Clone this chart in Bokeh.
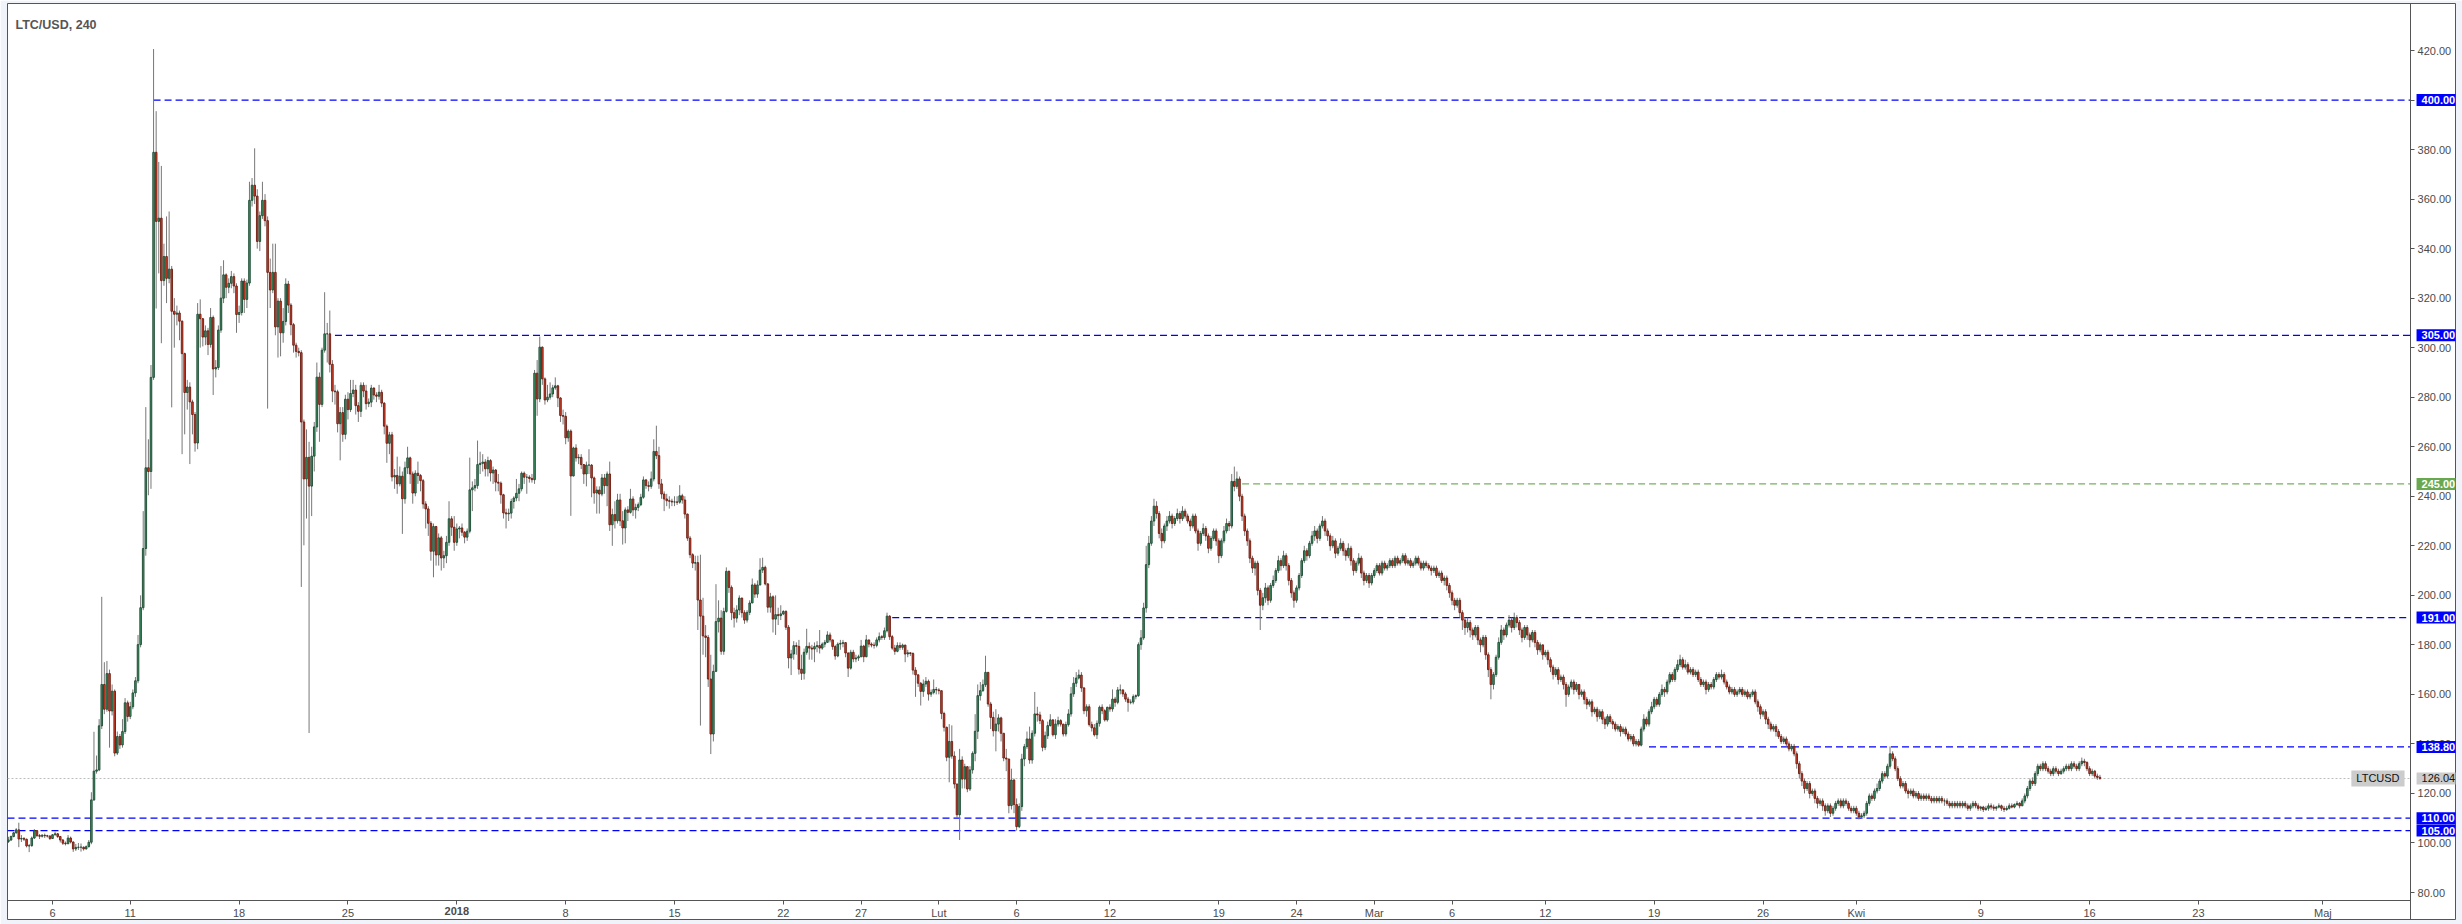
import numpy as np
import pandas as pd
from bokeh.plotting import figure
from bokeh.models import ColumnDataSource, Range1d, FixedTicker, PrintfTickFormatter, Label, DatetimeAxis
from bokeh.embed import file_html
from bokeh.resources import INLINE

# ---------------- data ----------------
chart_title = "LTC/USD, 240"
first_bar = "2017-12-03 04:00"
bar_hours = 4
first_open = 100.6

close = [
    # early December
    101.2, 102.6, 104.1, 105.3, 101.6, 101.8, 101.5, 98.8, 98.9, 102.0, 105.0, 103.0, 102.7, 103.1, 102.9, 102.8,
    101.8, 103.3, 103.7, 102.6, 101.2, 99.9, 99.7, 102.0, 100.4, 97.6, 98.2, 98.3, 98.3, 97.6, 98.5, 100.3,
    # pump
    117.4, 129.0, 129.5, 147.3, 164.0, 154.0, 168.4, 153.3, 161.3, 136.3, 143.0, 139.6, 145.0, 156.6, 151.1, 155.0,
    160.6, 165.5, 180.1, 195.0, 218.9, 251.5, 250.0, 288.0, 378.9, 351.0, 352.3, 327.1, 336.8, 328.0, 331.7, 314.7,
    313.5, 314.0, 310.7, 297.6, 281.9, 284.1, 278.1, 273.0, 261.5, 313.5,
    # mid / late December
    311.7, 304.3, 306.8, 301.3, 312.2, 291.4, 292.0, 307.1, 320.0, 329.4, 324.4, 326.0, 328.7, 324.9, 313.4, 314.2,
    326.9, 319.5, 326.1, 359.5, 365.6, 361.2, 342.9, 353.3, 359.5, 351.3, 330.4, 323.3, 330.4, 308.4, 318.8, 306.0,
    310.6, 325.7, 317.2, 309.3, 301.0, 298.5, 298.0, 270.0, 247.0, 255.7, 244.1, 256.2, 268.0, 288.1, 277.1, 299.0,
    305.6, 305.6, 293.3, 282.5, 282.2, 269.3, 273.8, 265.0, 279.2, 275.0, 281.5, 282.9, 276.6, 274.3, 284.8, 282.5,
    277.4, 278.0, 283.7, 280.9, 280.4, 282.0, 277.6, 268.3, 261.4,
    # late December / early January
    264.8, 247.8, 248.4, 245.0, 248.1, 239.0, 251.5, 255.5, 249.0, 241.3, 249.3, 248.4, 246.3, 236.9, 234.9, 229.1,
    217.8, 227.8, 216.3, 223.2, 215.1, 216.0, 221.4, 230.9, 227.5, 221.4, 226.8, 227.2, 225.5, 223.5, 225.9, 242.6,
    243.4, 244.3, 252.8, 253.3, 253.8, 251.1, 254.4, 249.4, 250.6, 245.7, 245.3, 240.6, 233.3, 232.9, 233.2, 237.9,
    239.3, 241.2, 243.0, 249.3, 247.7, 247.7, 247.2, 246.7, 289.7, 279.3, 300.2, 287.4, 278.9, 280.0, 281.3, 283.8,
    284.6, 279.7, 272.6, 272.3, 263.6, 266.3, 248.2, 259.5, 255.5,
    # January
    255.7, 252.8, 249.0, 252.6, 252.6, 247.4, 241.3, 242.5, 240.9, 247.4, 244.3, 249.0, 228.5, 232.6, 230.1, 238.5,
    230.1, 227.2, 234.5, 233.5, 238.9, 234.5, 235.5, 236.6, 239.6, 246.6, 244.3, 244.0, 247.0, 258.1, 256.4, 245.0,
    240.9, 238.9, 238.2, 238.0, 237.7, 237.7, 237.6, 240.2, 238.5, 232.8, 223.1, 216.4, 213.0, 213.2, 198.1, 191.6,
    183.6, 183.0, 166.2, 144.0, 169.3, 189.4, 190.8, 177.4, 193.5, 209.7, 203.2, 193.0, 190.8, 194.1, 198.9, 193.0,
    190.0, 193.1, 196.9, 204.2, 200.5, 204.2, 210.2, 211.3, 204.6, 195.2,
    # late January / early February
    199.4, 190.4, 192.2, 191.8, 192.5, 193.5, 187.1, 174.7, 176.3, 179.7, 179.4, 170.2, 168.5, 177.0, 179.4, 178.7,
    178.3, 179.3, 179.7, 178.7, 180.3, 181.0, 184.0, 182.0, 179.3, 175.5, 180.3, 180.6, 180.9, 176.7, 170.6, 177.0,
    174.3, 174.7, 175.2, 179.5, 175.2, 182.0, 180.3, 179.9, 179.8, 182.0, 183.3, 183.0, 185.7, 191.6, 183.3, 178.7,
    177.4, 179.7, 179.0, 179.9, 176.3, 176.8, 176.5, 169.8, 167.9, 164.5, 161.2, 164.2, 165.3, 160.1, 160.8, 162.0,
    161.8, 161.5, 152.3, 146.7, 134.6, 141.0, 135.1, 123.8, 111.4,
    # February
    133.5, 125.8, 130.8, 121.8, 129.5, 136.2, 145.1, 159.5, 161.5, 163.9, 168.9, 156.1, 150.7, 145.3, 148.0, 150.5,
    144.3, 134.3, 133.9, 115.1, 125.4, 115.5, 106.6, 114.7, 133.9, 138.9, 142.0, 133.5, 144.3, 152.1, 151.7, 149.4,
    138.6, 143.3, 147.4, 149.7, 143.7, 148.0, 149.4, 148.0, 144.0, 147.8, 152.1, 160.2, 164.5, 166.6, 167.8, 162.6,
    153.4, 155.0, 147.8, 146.5, 143.7, 148.3, 154.8, 153.4, 149.7, 154.8, 154.1, 158.1, 156.8, 161.8, 161.8, 160.2,
    158.1, 156.8, 156.9, 159.1, 159.5, 180.1, 182.8, 194.9, 212.4,
    # mid February to mid April
    221, 230, 236, 233, 225, 222, 228, 230, 232, 229, 231, 233, 231, 234, 232,
    230, 228, 232, 226, 221, 225, 227, 224, 219, 223, 226, 222, 216, 222, 226, 229, 228,
    246, 244, 247, 240, 232, 226, 222, 215, 211, 213, 202, 196, 199,
    203, 198, 204, 206, 210, 214, 212, 216, 212, 206, 201, 198, 203,
    208, 214, 218, 216, 221, 224, 226, 223, 228, 230, 226,
    224, 220, 222, 217, 219, 221, 218, 216, 219, 214, 210, 213, 215,
    209, 206, 208, 205, 208, 210, 212, 209, 213, 211, 212,
    214, 212, 215, 213, 214, 216, 213, 214, 212, 213, 215, 213, 211, 213, 212, 211, 210,
    211, 208, 209, 206, 207, 204, 201, 198, 196, 198, 193, 190, 187, 189, 186,
    184, 187, 182, 180, 183, 176, 170, 164, 168, 175, 181, 186, 184, 188, 190, 187, 191, 189,
    186, 183, 187, 184, 182, 185, 181, 178, 180, 176, 177, 174, 171, 168, 170, 166, 167,
    164, 160, 163, 165, 162, 164, 160, 161, 158, 156, 157, 153, 154,
    151, 153, 150, 148, 151, 149, 148, 146, 147, 145, 146, 144, 142, 143, 140, 141, 139.5,
    146, 150, 148, 153, 155, 158, 156, 160, 162, 161, 165, 168, 166, 170, 172, 174,
    171, 172, 169, 170, 168, 169, 166, 164, 165, 162, 164, 163, 166, 168, 167, 168,
    165, 163, 161, 162, 160, 161, 162, 160, 161, 159, 160, 161,
    157, 155, 152, 153, 150, 148, 146, 147, 145, 143, 141, 142, 140,
    138, 139, 136, 132, 128, 125, 122, 124, 120, 121, 118, 116, 117, 115,
    113, 115, 112, 114, 116, 117, 115, 117, 116, 114, 113, 114, 112, 110.5, 111, 112,
    116, 119, 118, 121, 122, 125, 128, 127, 131, 136, 134, 130,
    126, 123, 124, 121, 120, 121, 119, 120, 118, 119, 118,
    119, 118, 117, 118, 117, 118, 117, 117, 116, 115, 116, 115, 116,
    115, 116, 115, 114, 115, 116, 115, 114, 114.5, 113.5, 114, 115, 114.5,
    114, 114.5, 115, 114, 113.5, 114, 115, 114.5, 115.5, 116, 115, 117,
    119, 122, 125, 124, 128, 131, 130, 132, 130,
    129, 128, 130, 129, 128, 129, 130, 131, 130, 132, 131, 130, 132,
    133, 132.5, 130, 128, 129, 127, 126.5, 126.04,
]

high = [
    102.5, 103.0, 104.5, 106.0, 108.2, 103.2, 102.4, 101.8, 99.6, 102.6, 105.6, 105.2, 103.6, 103.6, 103.8, 103.3,
    103.1, 103.6, 104.6, 104.0, 102.8, 101.6, 100.6, 103.2, 102.6, 100.6, 99.6, 100.0, 99.8, 98.6, 99.0, 101.2,
    120.5, 144.9, 135.3, 150.0, 199.4, 173.0, 173.5, 170.0, 164.0, 162.0, 145.0, 144.0, 150.0, 158.5, 157.5, 157.0,
    162.0, 167.0, 184.0, 200.0, 234.0, 276.0, 263.0, 293.0, 420.6, 395.5, 375.0, 373.4, 342.0, 353.0, 355.0, 333.0,
    320.0, 317.0, 315.0, 311.0, 298.0, 287.0, 286.0, 279.0, 274.0, 318.0,
    319.5, 312.0, 309.0, 308.0, 316.0, 313.0, 295.0, 309.0, 333.0, 335.3, 330.0, 328.0, 331.0, 330.0, 326.0, 317.0,
    328.0, 328.0, 327.5, 367.0, 368.5, 380.5, 364.0, 355.0, 367.0, 362.0, 353.0, 336.0, 342.0, 342.0, 320.0, 320.0,
    316.0, 328.0, 327.0, 318.0, 310.0, 302.0, 300.0, 299.0, 271.0, 267.0, 262.0, 260.0, 270.0, 294.0, 290.0, 300.0,
    322.4, 310.0, 315.0, 295.0, 285.0, 283.0, 276.0, 276.0, 281.0, 282.0, 287.0, 287.0, 285.0, 278.0, 286.0, 286.0,
    285.0, 279.5, 285.0, 284.0, 282.0, 285.0, 283.0, 278.0, 269.0,
    266.0, 266.0, 251.0, 256.0, 252.0, 250.0, 254.0, 260.0, 256.0, 250.0, 250.5, 254.0, 249.0, 247.0, 238.0, 236.0,
    230.0, 229.0, 228.0, 225.0, 224.0, 218.0, 224.0, 238.0, 232.0, 232.0, 229.0, 228.0, 229.0, 226.0, 227.0, 255.6,
    246.0, 247.0, 262.5, 258.0, 257.0, 255.0, 256.0, 255.0, 252.0, 251.0, 249.0, 246.0, 241.0, 235.0, 235.0, 239.0,
    240.0, 247.0, 245.0, 250.0, 250.0, 249.0, 248.5, 249.0, 291.0, 295.0, 304.5, 300.5, 288.0, 285.0, 286.0, 285.0,
    288.0, 285.0, 280.0, 275.0, 274.0, 267.0, 267.0, 260.0, 261.0,
    257.0, 257.0, 253.0, 254.0, 259.0, 253.0, 248.0, 244.0, 244.0, 249.0, 249.0, 250.0, 254.0, 235.0, 238.0, 241.0,
    241.0, 234.0, 235.5, 236.0, 243.0, 240.0, 237.0, 237.5, 241.0, 248.0, 247.0, 246.0, 250.0, 263.0, 268.5, 260.0,
    247.0, 242.0, 241.0, 240.0, 239.0, 240.0, 240.0, 244.5, 241.0, 240.0, 233.0, 224.0, 217.0, 216.0, 216.0, 216.4,
    199.0, 188.0, 184.0, 176.0, 172.0, 204.5, 198.0, 194.0, 195.0, 211.3, 210.0, 204.0, 195.0, 196.0, 200.0, 199.0,
    194.0, 194.0, 198.0, 206.8, 205.0, 206.0, 215.0, 215.2, 212.0, 205.0,
    201.0, 200.0, 200.0, 195.0, 196.0, 194.0, 194.0, 188.0, 178.0, 181.5, 181.0, 182.0, 176.0, 178.5, 186.5, 181.0,
    180.0, 181.0, 181.5, 186.0, 181.0, 182.0, 185.5, 185.0, 182.0, 180.0, 181.0, 182.0, 182.0, 181.0, 177.0, 178.0,
    178.0, 176.0, 176.0, 182.0, 180.0, 184.0, 182.0, 181.0, 181.0, 183.0, 185.0, 184.0, 187.0, 193.0, 192.0, 184.0,
    180.0, 181.0, 181.0, 180.5, 180.0, 178.0, 177.0, 177.0, 171.0, 168.0, 165.0, 166.0, 167.0, 166.0, 162.0, 166.0,
    163.0, 162.5, 161.5, 153.0, 147.0, 148.0, 147.5, 137.0, 124.0,
    138.0, 135.0, 132.0, 131.0, 131.0, 137.0, 152.0, 164.0, 165.0, 166.0, 175.6, 169.0, 157.0, 153.0, 154.0, 152.0,
    151.0, 144.0, 138.0, 134.0, 130.0, 126.0, 118.0, 116.0, 136.0, 140.0, 145.0, 147.0, 145.5, 161.0, 155.0, 153.0,
    150.0, 145.0, 149.0, 152.0, 150.0, 150.0, 151.0, 150.0, 148.0, 149.0, 154.0, 163.0, 167.0, 169.0, 170.0, 169.0,
    163.0, 156.0, 156.0, 149.0, 148.0, 149.5, 155.5, 156.0, 154.0, 155.0, 156.0, 162.0, 159.0, 163.0, 164.0, 162.0,
    161.0, 159.0, 158.0, 160.0, 160.0, 181.0, 186.0, 197.0, 220.0,
    224, 232, 239, 238, 234, 227, 229, 232, 234, 233, 232, 235, 234, 236, 235,
    233, 231, 233, 233, 227, 226, 229, 228, 225, 224, 227, 227, 223, 223, 228, 231, 230,
    249, 252, 250, 248, 241, 233, 227, 223, 216, 214, 214, 203, 201,
    205, 204, 205, 208, 211, 216, 215, 218, 217, 213, 207, 202, 204,
    209, 215, 220, 219, 222, 226, 228, 227, 229, 232, 231,
    227, 225, 224, 223, 220, 223, 222, 219, 221, 220, 215, 214, 217,
    216, 210, 209, 209, 209, 211, 213, 213, 214, 214, 213,
    215, 215, 216, 216, 215, 217, 217, 215, 215, 214, 216, 216, 214, 214, 214, 213, 212,
    212, 212, 210, 210, 208, 208, 205, 202, 199, 199, 199, 194, 191, 191, 190,
    187, 188, 188, 183, 184, 184, 177, 171, 169, 176, 183, 188, 187, 189, 192, 191, 193, 192,
    190, 187, 188, 188, 185, 186, 186, 182, 181, 180, 178, 178, 175, 172, 171, 171, 168,
    168, 165, 164, 166, 166, 165, 164, 162, 162, 159, 158, 158, 155,
    155, 154, 154, 151, 152, 152, 150, 149, 148, 148, 147, 147, 145, 144, 144, 142, 142,
    147, 152, 151, 154, 157, 159, 159, 161, 164, 163, 166, 169, 169, 171, 174, 176,
    175, 174, 173, 171, 171, 170, 170, 167, 166, 166, 165, 165, 167, 169, 169, 170,
    169, 166, 164, 163, 163, 162, 163, 163, 162, 162, 161, 162,
    162, 158, 156, 154, 154, 151, 149, 148, 148, 146, 144, 143, 143,
    141, 140, 140, 137, 133, 129, 126, 125, 125, 122, 122, 119, 118, 118,
    116, 116, 116, 115, 117, 118, 118, 118, 118, 117, 115, 115, 115, 113, 112, 113,
    117, 120, 120, 122, 124, 126, 129, 129, 132, 139, 137, 135,
    131, 127, 125, 125, 122, 122, 122, 121, 121, 120, 120,
    120, 120, 119, 119, 119, 119, 119, 118, 118, 117, 117, 117, 117,
    117, 117, 117, 116, 116, 117, 117, 116, 115, 115, 115, 116, 116,
    115.5, 115, 116, 115.5, 115, 115, 116, 116, 116, 117, 116.5, 118,
    120, 123, 126, 126.5, 129, 132, 132, 133, 133,
    131, 130, 131, 131, 130, 130, 131, 132, 132, 133, 133, 132, 133,
    134.5, 134, 133, 131, 130, 129.5, 128, 127.5,
]

low = [
    100.0, 100.8, 102.3, 103.8, 98.3, 100.4, 100.8, 98.2, 96.3, 98.5, 101.6, 102.4, 101.6, 102.2, 102.0, 102.2,
    101.2, 101.6, 103.0, 102.0, 100.2, 99.2, 99.0, 99.5, 99.8, 96.4, 96.8, 97.2, 96.5, 96.9, 97.4, 98.2,
    99.5, 117.0, 128.0, 129.0, 146.0, 152.0, 153.0, 138.5, 151.5, 135.0, 135.5, 138.0, 138.5, 144.0, 149.0, 150.0,
    154.0, 159.0, 164.5, 179.0, 194.0, 216.0, 240.4, 243.0, 287.0, 315.8, 330.0, 301.8, 325.0, 318.0, 326.0, 275.9,
    300.0, 309.0, 303.0, 257.0, 265.0, 275.0, 253.0, 265.0, 258.0, 259.0,
    300.0, 300.5, 301.0, 297.0, 300.0, 280.9, 288.0, 291.0, 306.0, 318.0, 320.0, 322.0, 324.0, 322.0, 306.0, 310.0,
    313.0, 314.0, 316.0, 325.0, 357.0, 358.0, 340.0, 339.0, 352.0, 349.0, 275.4, 316.0, 322.0, 305.0, 296.0, 296.5,
    302.0, 309.0, 314.0, 305.0, 298.0, 296.0, 296.5, 203.4, 220.2, 231.0, 144.4, 232.0, 250.0, 266.0, 262.0, 276.0,
    298.0, 294.0, 290.0, 278.0, 277.0, 265.8, 254.5, 262.0, 263.0, 271.0, 274.0, 280.0, 273.0, 270.0, 272.0, 280.0,
    275.0, 276.0, 276.0, 279.0, 278.0, 279.0, 276.0, 265.0, 253.5,
    257.0, 246.0, 243.0, 241.0, 244.0, 224.8, 237.0, 249.0, 245.0, 237.0, 240.0, 245.0, 242.0, 235.0, 227.0, 224.0,
    214.0, 207.3, 212.0, 212.0, 210.0, 211.0, 213.0, 220.0, 224.0, 218.0, 220.0, 223.0, 224.0, 221.0, 222.0, 225.0,
    234.0, 242.0, 243.0, 249.0, 250.0, 248.0, 248.0, 246.0, 245.0, 242.0, 242.0, 237.0, 231.0, 227.0, 230.0, 231.0,
    235.0, 238.0, 238.0, 242.0, 245.0, 241.0, 245.5, 245.5, 245.0, 272.5, 278.0, 285.0, 277.0, 278.0, 279.0, 280.0,
    283.0, 276.0, 270.0, 269.0, 261.0, 262.0, 232.1, 248.0, 254.0,
    253.0, 251.0, 245.0, 244.0, 249.0, 239.6, 237.0, 233.0, 233.0, 240.0, 241.0, 236.0, 226.0, 220.0, 227.0, 229.0,
    228.0, 220.5, 221.0, 230.0, 233.0, 232.0, 231.0, 234.0, 236.0, 239.0, 243.0, 242.0, 243.0, 246.0, 255.0, 243.0,
    239.0, 234.0, 236.0, 235.0, 236.0, 236.0, 236.5, 237.0, 237.0, 231.0, 222.0, 215.0, 211.0, 210.0, 186.0, 147.4,
    176.0, 175.0, 163.0, 135.9, 141.0, 169.0, 185.0, 176.0, 176.0, 193.0, 201.0, 190.0, 187.0, 189.0, 192.0, 191.0,
    188.5, 189.0, 192.0, 197.0, 199.0, 199.0, 204.0, 209.0, 204.0, 193.0,
    193.0, 185.0, 184.0, 188.0, 190.0, 192.0, 186.0, 170.5, 167.8, 174.0, 176.0, 168.0, 165.8, 166.0, 176.0, 174.0,
    174.0, 173.0, 177.0, 176.5, 178.0, 179.0, 181.0, 181.0, 178.0, 174.0, 175.0, 178.0, 179.0, 175.0, 167.0, 170.0,
    173.0, 173.0, 173.5, 175.0, 173.0, 175.0, 179.0, 179.0, 178.5, 179.0, 181.0, 182.0, 182.0, 185.0, 182.0, 178.0,
    176.0, 177.0, 178.0, 178.0, 173.0, 175.0, 175.5, 168.0, 159.0, 163.0, 155.5, 159.0, 163.0, 157.5, 159.0, 160.0,
    160.0, 160.0, 150.0, 145.0, 133.0, 124.5, 134.0, 122.0, 110.0,
    101.2, 122.0, 122.0, 120.5, 121.0, 128.0, 133.0, 142.0, 157.5, 161.0, 163.0, 155.0, 146.0, 143.0, 137.0, 145.0,
    141.0, 133.0, 129.0, 112.0, 113.5, 112.0, 105.0, 106.0, 113.0, 131.0, 138.0, 132.0, 132.0, 143.0, 149.0, 148.0,
    137.0, 137.5, 142.0, 147.0, 143.0, 142.0, 147.0, 147.0, 143.0, 143.0, 147.0, 151.0, 159.0, 163.0, 166.0, 161.0,
    152.0, 151.0, 147.0, 145.0, 143.0, 142.0, 147.0, 152.0, 149.0, 149.0, 153.0, 153.0, 155.0, 156.0, 160.0, 159.0,
    157.0, 153.0, 156.0, 156.0, 158.0, 159.0, 178.0, 182.0, 193.0,
    211, 220, 228, 231, 223, 219, 221, 226, 229, 227, 228, 230, 229, 230, 231,
    229, 226, 227, 225, 218, 220, 224, 222, 217, 218, 222, 220, 213, 215, 221, 225, 226,
    227, 242, 243, 238, 230, 224, 220, 213, 209, 208, 200, 186, 194,
    197, 196, 197, 203, 205, 209, 210, 211, 210, 204, 199, 195, 197,
    202, 207, 213, 214, 215, 220, 222, 221, 222, 227, 224,
    222, 218, 219, 215, 216, 218, 216, 214, 215, 212, 208, 209, 212,
    207, 204, 205, 203, 204, 207, 209, 208, 208, 210, 210,
    211, 211, 211, 212, 212, 213, 212, 212, 211, 211, 212, 212, 210, 210, 211, 210, 208,
    209, 207, 207, 205, 204, 202, 199, 196, 194, 195, 191, 186, 184, 185, 183,
    182, 183, 180, 177, 179, 174, 167, 158, 162, 167, 174, 180, 182, 183, 187, 185, 186, 187,
    184, 181, 182, 182, 179, 181, 179, 176, 177, 174, 175, 172, 169, 166, 167, 164, 165,
    162, 155, 159, 162, 160, 161, 158, 159, 156, 154, 155, 151, 152,
    149, 150, 148, 146, 147, 148, 146, 145, 145, 143, 144, 143, 141, 141, 139, 139, 138.8,
    139, 145, 147, 147, 152, 154, 155, 155, 159, 159, 160, 164, 165, 165, 169, 171,
    170, 170, 168, 168, 167, 167, 165, 163, 163, 160, 161, 162, 162, 165, 166, 166,
    164, 162, 160, 160, 159, 159, 160, 159, 159, 158, 158, 159,
    156, 153, 150, 151, 148, 146, 145, 145, 143, 142, 140, 140, 139,
    137, 137, 135, 130, 126, 123, 120, 121, 118, 119, 116, 114, 115, 113,
    111, 112, 110.5, 111, 113, 115, 114, 114, 115, 113, 112, 112, 111, 109.5, 109.8, 110,
    111, 115, 117, 117, 120, 121, 124, 126, 126, 130, 133, 129,
    125, 122, 122, 120, 118, 119, 118, 118, 117, 117, 117,
    117, 117, 116, 116, 116, 116, 116, 115, 115, 114, 114, 114, 114,
    114, 114, 114, 113, 113, 114, 114, 113, 113, 112.5, 113, 113, 113.5,
    113, 113, 114, 113, 112.5, 113, 113.5, 114, 114, 115, 114, 115,
    116, 118, 121, 123, 123, 127, 129, 129, 129,
    128, 127, 127, 128, 127, 127.5, 128, 129, 129, 129, 130, 129, 129,
    131, 131, 129, 127, 127, 126, 125.5, 125.5,
]

price_ticks = [80, 100, 120, 140, 160, 180, 200, 220, 240, 260, 280, 300, 320, 340, 360, 380, 400, 420]
time_tick_dates = ["2017-12-06", "2017-12-11", "2017-12-18", "2017-12-25", "2018-01-01", "2018-01-08",
                   "2018-01-15", "2018-01-22", "2018-01-27", "2018-02-01", "2018-02-06", "2018-02-12",
                   "2018-02-19", "2018-02-24", "2018-03-01", "2018-03-06", "2018-03-12", "2018-03-19",
                   "2018-03-26", "2018-04-01", "2018-04-09", "2018-04-16", "2018-04-23", "2018-05-01"]
time_tick_labels = ["6", "11", "18", "25", "2018", "8", "15", "22", "27", "Lut", "6", "12", "19", "24",
                    "Mar", "6", "12", "19", "26", "Kwi", "9", "16", "23", "Maj"]
year_tick_date = "2018-01-01"
year_tick_label = "2018"

level_prices = [400.0, 305.0, 245.0, 191.0, 138.8, 110.0, 105.0]
level_starts = ["2017-12-12 12:00", "2017-12-24 04:00", "2018-02-20 12:00", "2018-01-29 00:00",
                "2018-03-18 16:00", None, None]
level_colors = ["#0000ff", "#0000ff", "#6aa84f", "#0000ff", "#0000ff", "#0000ff", "#0000ff"]
level_line_colors = ["#0000ff", "#0000ff", "#78b062", "#0000ff", "#0000ff", "#0000ff", "#0000ff"]
last_price = 126.04
symbol = "LTCUSD"

# visible window (frame edges) and axis positions
view_start = "2017-12-03 02:33"
view_end = "2018-05-09 12:45"
price_axis_time = "2018-05-06 15:22"
price_min, price_max = 69.1, 438.98
time_axis_price = 76.71

# ---------------- styling ----------------
UP_FILL, UP_LINE = "#3f9566", "#1c4b32"
DN_FILL, DN_LINE = "#d5402c", "#6a1c10"
WICK = "#777777"
AXIS_COL = "#555555"
TXT = "#4b4b4b"
FONT = "Liberation Sans"

W, H = 2462, 924
ML, MT, MR, MB = 7, 3, 7, 5
FRAME_W = W - ML - MR
FRAME_H = H - MT - MB


def ms(s):
    return pd.Timestamp(s).value / 1e6


n = min(len(close), len(high), len(low))
c = close[:n]
opens = [first_open] + c[:-1]
t0 = pd.Timestamp(first_bar)
times = [ms(t0 + pd.Timedelta(hours=bar_hours * i)) for i in range(n)]
is_up = [cc >= oo for oo, cc in zip(opens, c)]

src = ColumnDataSource(dict(
    t=times, o=opens, c=c, h=high[:n], l=low[:n],
    top=[max(a, b) for a, b in zip(opens, c)],
    bot=[min(a, b) for a, b in zip(opens, c)],
    fill=[UP_FILL if u else DN_FILL for u in is_up],
    edge=[UP_LINE if u else DN_LINE for u in is_up],
))

x0, x1 = ms(view_start), ms(view_end)
xa = ms(price_axis_time)

p = figure(width=W, height=H, x_axis_type="datetime", y_axis_location="right",
           x_range=Range1d(x0, x1), y_range=Range1d(price_min, price_max),
           output_backend="svg", toolbar_location=None,
           min_border_left=ML, min_border_top=MT, min_border_right=MR, min_border_bottom=MB,
           background_fill_color="white", border_fill_color="#f0f3fa",
           outline_line_color=AXIS_COL, outline_line_width=1)
p.xgrid.visible = False
p.ygrid.visible = False

# level lines (behind candles)
for price, start, col in zip(level_prices, level_starts, level_line_colors):
    xs = ms(start) if start else x0
    p.segment(x0=[xs], y0=[price], x1=[xa], y1=[price], line_color=col, line_width=1.2, line_dash="7 4")
p.segment(x0=[x0], y0=[last_price], x1=[xa], y1=[last_price], line_color="#bdbdbd", line_width=1,
          line_dash="2 2")

# candles
bar_ms = bar_hours * 3600 * 1000
p.segment(x0="t", y0="h", x1="t", y1="l", source=src, line_color=WICK, line_width=1)
p.vbar(x="t", width=bar_ms * 0.62, top="top", bottom="bot", source=src,
       fill_color="fill", line_color="edge", line_width=0.9)

# axes drawn at fixed positions inside the frame
p.yaxis.fixed_location = xa
p.xaxis.fixed_location = time_axis_price
p.xaxis.bounds = (x0, xa)
p.yaxis.ticker = FixedTicker(ticks=price_ticks)
p.yaxis.formatter = PrintfTickFormatter(format="%.2f")
p.xaxis.ticker = FixedTicker(ticks=[ms(d) for d in time_tick_dates])
p.xaxis.major_label_overrides = {ms(d): (" " if lab == year_tick_label else lab)
                                 for d, lab in zip(time_tick_dates, time_tick_labels)}

year_axis = DatetimeAxis(ticker=FixedTicker(ticks=[ms(year_tick_date)]),
                         major_label_overrides={ms(year_tick_date): year_tick_label},
                         fixed_location=time_axis_price, axis_line_color=None,
                         major_tick_line_color=None, minor_tick_line_color=None)
p.add_layout(year_axis, "below")

for ax in (p.xaxis[0], p.yaxis[0], year_axis):
    ax.major_tick_out = 4
    ax.major_tick_in = 0
    ax.minor_tick_line_color = None
    ax.major_label_text_font = FONT
    ax.major_label_text_font_size = "11px"
    ax.major_label_text_color = TXT
    ax.major_label_standoff = 2
p.xaxis[0].axis_line_color = AXIS_COL
p.yaxis[0].axis_line_color = AXIS_COL
p.xaxis[0].major_tick_line_color = AXIS_COL
p.yaxis[0].major_tick_line_color = AXIS_COL
p.yaxis[0].major_label_standoff = 3
year_axis.major_label_text_font_style = "bold"


def tag(text, y, bg, fg, bold=True, align="left", dx=0):
    kw = dict(x=xa, y=y, x_units="data", y_units="data", x_offset=dx, text=text,
              text_font=FONT, text_font_size="11px", text_color=fg,
              text_font_style="bold" if bold else "normal", text_align=align, text_baseline="middle",
              background_fill_color=bg, background_fill_alpha=1.0)
    pad = 5
    try:
        lab = Label(padding=dict(left=pad, right=pad, top=2, bottom=2), **kw)
    except Exception:
        lab = Label(padding=3, **kw)
    p.add_layout(lab)


for price, col in zip(level_prices, level_colors):
    tag("%.2f" % price, price, col, "white", dx=6)
tag(symbol, last_price, "#cccccc", "#111111", bold=False, align="right", dx=-6)
tag("%.2f" % last_price, last_price, "#cccccc", "#111111", bold=False, dx=6)

p.add_layout(Label(x=8, y=FRAME_H - 14, x_units="screen", y_units="screen", text=chart_title,
                   text_font=FONT, text_font_size="12.5px", text_font_style="bold", text_color="#555555",
                   text_baseline="top"))

open("out.html", "w").write(file_html(p, INLINE))
